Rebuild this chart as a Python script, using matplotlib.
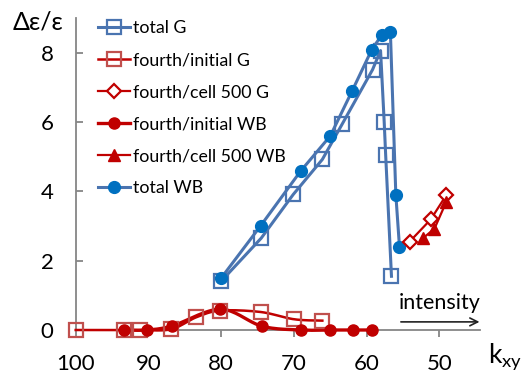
import numpy as np
import matplotlib
matplotlib.use("Agg")
import matplotlib.pyplot as plt

plt.rcParams['font.family'] = ['Lato', 'DejaVu Sans']

# ---- data ----
tg_x = [80.0, 74.5, 70.1, 66.1, 63.4, 59.2, 58.1, 57.6, 57.4, 56.6]
tg_y = [1.41, 2.65, 3.91, 4.92, 5.93, 7.51, 8.06, 6.00, 5.06, 1.55]

twb_x = [80.0, 74.6, 69.1, 65.0, 62.0, 59.3, 57.9, 56.75, 56.0, 55.5]
twb_y = [1.50, 3.00, 4.58, 5.60, 6.90, 8.09, 8.52, 8.60, 3.90, 2.40]

fig_x = [100.0, 93.3, 91.1, 86.9, 83.4, 80.1, 74.6, 70.0, 66.1]
fig_y = [0.0, 0.0, 0.0, 0.02, 0.37, 0.56, 0.52, 0.31, 0.27]

fiwb_x = [93.3, 90.2, 86.7, 80.1, 74.4, 69.1, 65.0, 61.9, 59.3]
fiwb_y = [0.0, 0.0, 0.12, 0.60, 0.11, 0.0, 0.0, 0.0, 0.0]

fcg_x = [54.1, 51.2, 49.1]
fcg_y = [2.55, 3.19, 3.88]

fcwb_x = [52.2, 50.7, 49.1]
fcwb_y = [2.66, 2.92, 3.68]

x_ticks = [100, 90, 80, 70, 60, 50]
y_ticks = [0, 2, 4, 6, 8]


def smooth(xs, ys, n=20):
    """Catmull-Rom smoothing of the drawn line (like Excel 'smoothed line')."""
    p = np.column_stack([xs, ys]).astype(float)
    p = np.vstack([p[0], p, p[-1]])
    out = []
    for i in range(1, len(p) - 2):
        p0, p1, p2, p3 = p[i - 1], p[i], p[i + 1], p[i + 2]
        t = np.linspace(0, 1, n, endpoint=False)[:, None]
        c = 0.5 * ((2 * p1) + (-p0 + p2) * t + (2 * p0 - 5 * p1 + 4 * p2 - p3) * t ** 2
                   + (-p0 + 3 * p1 - 3 * p2 + p3) * t ** 3)
        out.append(c)
    out.append(p[-2][None, :])
    c = np.vstack(out)
    return c[:, 0], c[:, 1]


BLUE_L = '#4a74b0'
BLUE_M = '#0070c0'
RED = '#c00000'
RED_SQ = '#c0504d'

fig = plt.figure(figsize=(5.22, 3.75), dpi=100)
ax = fig.add_axes([0.145, 0.12, 0.775, 0.832])

kw = dict(clip_on=False)

# total G
ax.plot(tg_x, tg_y, color=BLUE_L, lw=2.2, marker='s', ms=10, mfc='none',
        mec=BLUE_L, mew=1.6, label='total G', zorder=3, **kw)

# fourth/initial G (smoothed)
sx, sy = smooth(fig_x, fig_y)
ax.plot(sx, sy, color=RED, lw=1.8, zorder=2, **kw)
ax.plot(fig_x, fig_y, ls='none', marker='s', ms=10, mfc='none', mec=RED_SQ, mew=1.6,
        zorder=3, **kw)
ax.plot([], [], color=RED, lw=1.8, marker='s', ms=10, mfc='none', mec=RED_SQ, mew=1.6,
        label='fourth/initial G')

# fourth/cell 500 G
ax.plot(fcg_x, fcg_y, color=RED, lw=1.6, marker='D', ms=7, mfc='white', mec=RED, mew=1.6,
        label='fourth/cell 500 G', zorder=4, **kw)

# fourth/initial WB (smoothed)
sx, sy = smooth(fiwb_x, fiwb_y)
ax.plot(sx, sy, color=RED, lw=2.4, zorder=2, **kw)
ax.plot(fiwb_x, fiwb_y, ls='none', marker='o', ms=8, mfc=RED, mec=RED, zorder=3, **kw)
ax.plot([], [], color=RED, lw=2.4, marker='o', ms=8, mfc=RED, mec=RED, label='fourth/initial WB')

# fourth/cell 500 WB
ax.plot(fcwb_x, fcwb_y, color=RED, lw=1.6, marker='^', ms=9, mfc=RED, mec=RED,
        label='fourth/cell 500 WB', zorder=4, **kw)

# total WB
ax.plot(twb_x, twb_y, color=BLUE_L, lw=2.2, marker='o', ms=8.5, mfc=BLUE_M, mec=BLUE_M,
        label='total WB', zorder=3, **kw)

ax.set_xlim(100, 44.4)
ax.set_ylim(0, 9)
ax.set_xticks(x_ticks)
ax.set_yticks(y_ticks)
for s in ['top', 'right']:
    ax.spines[s].set_visible(False)
for s in ['left', 'bottom']:
    ax.spines[s].set_color('#868686')
    ax.spines[s].set_linewidth(1.3)
    ax.spines[s].set_zorder(1)
ax.tick_params(axis='x', direction='out', length=5, width=1.3, color='#868686',
               labelsize=16, pad=12)
ax.tick_params(axis='y', direction='in', length=5, width=1.3, color='#868686',
               labelsize=16, pad=16)

leg = ax.legend(loc='upper left', bbox_to_anchor=(98 / 522, 1 - 20 / 375),
                bbox_transform=fig.transFigure, frameon=False, fontsize=12.8,
                handlelength=1.8, handletextpad=0.15, labelspacing=0.9,
                borderpad=0, borderaxespad=0)

fig.text(38 / 522, 1 - 22 / 375, 'Δε/ε', fontsize=18, ha='center', va='center')
fig.text(505 / 522, 1 - 357 / 375, r'k$_\mathregular{xy}$', fontsize=19, ha='center',
         va='center')

ax.annotate('', xy=(1.005, 0.026), xytext=(0.797, 0.026), xycoords='axes fraction',
            arrowprops=dict(arrowstyle='->', color='#222222', lw=1.2, mutation_scale=14))
ax.text(0.899, 0.085, 'intensity', transform=ax.transAxes, fontsize=15.5,
        ha='center', va='center')

fig.savefig('out.png', dpi=100)
